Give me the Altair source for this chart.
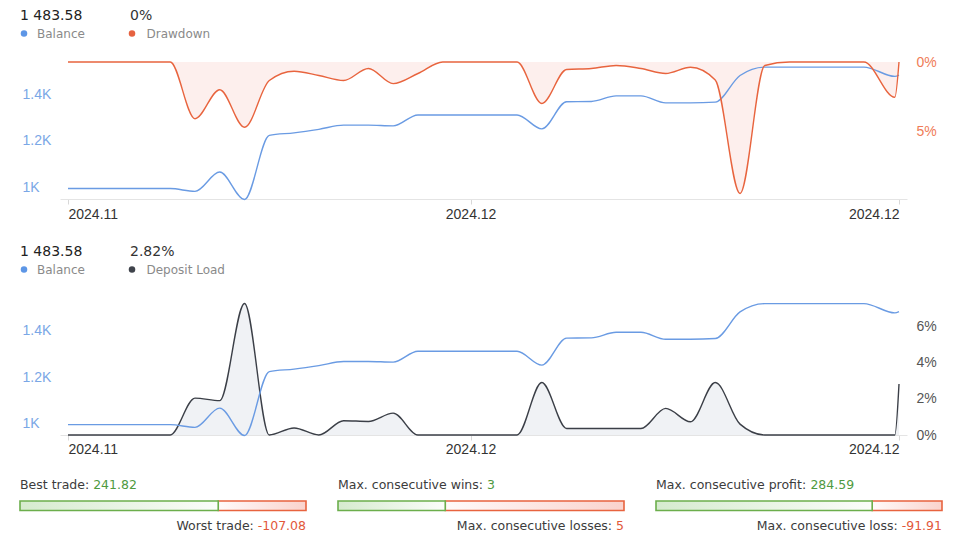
import altair as alt
import pandas as pd

# ---------------- data ----------------
dates = [
    "2024-11-14T18:00:00Z", "2024-11-18T21:00:00Z", "2024-11-19T21:00:00Z",
    "2024-11-20T21:00:00Z", "2024-11-21T21:00:00Z", "2024-11-22T21:00:00Z",
    "2024-11-23T21:00:00Z", "2024-11-24T21:00:00Z", "2024-11-25T21:00:00Z",
    "2024-11-26T21:00:00Z", "2024-11-27T21:00:00Z", "2024-11-28T21:00:00Z",
    "2024-11-29T21:00:00Z", "2024-11-30T21:00:00Z", "2024-12-01T21:00:00Z",
    "2024-12-02T21:00:00Z", "2024-12-03T21:00:00Z", "2024-12-04T21:00:00Z",
    "2024-12-05T21:00:00Z", "2024-12-06T21:00:00Z", "2024-12-07T21:00:00Z",
    "2024-12-08T21:00:00Z", "2024-12-09T21:00:00Z", "2024-12-10T21:00:00Z",
    "2024-12-11T21:00:00Z", "2024-12-12T21:00:00Z", "2024-12-13T21:00:00Z",
    "2024-12-14T21:00:00Z", "2024-12-15T21:00:00Z", "2024-12-16T21:00:00Z",
    "2024-12-18T03:00:00Z", "2024-12-18T07:00:00Z",
]
balance = [995, 995, 983, 1066, 948, 1224, 1235, 1250, 1268, 1268, 1265,
           1312, 1312, 1312, 1312, 1312, 1252, 1369, 1370, 1394, 1394, 1364,
           1364, 1367, 1482, 1518, 1518, 1518, 1518, 1518, 1478, 1483.58]
drawdown = [0, 0, 4.1, 2.0, 4.72, 1.34, 0.67, 0.98, 1.34, 0.47, 1.56,
            0.83, 0, 0, 0, 0, 3.0, 0.54, 0.47, 0.25, 0.47, 0.83,
            0.38, 1.3, 9.5, 0.25, 0, 0, 0, 0, 2.55, 0]
deposit_load = [0, 0, 2.04, 1.9, 7.27, 0, 0.39, 0, 0.79, 0.75, 1.21,
                0, 0, 0, 0, 0, 2.9, 0.36, 0.36, 0.36, 0.36, 1.47,
                0.73, 2.9, 0.6, 0, 0, 0, 0, 0, 0, 2.82]

x_tick_dates = [(2024, 11, 14, 18), (2024, 12, 1, 0), (2024, 12, 18, 7)]
balance_ticks = [1000, 1200, 1400]
drawdown_ticks = [0, 5]
load_ticks = [0, 2, 4, 6]

top_header = ["1 483.58", "0%"]
top_legend = ["Balance", "Drawdown"]
bottom_header = ["1 483.58", "2.82%"]
bottom_legend = ["Balance", "Deposit Load"]

stat_top_labels = ["Best trade:", "Max. consecutive wins:", "Max. consecutive profit:"]
stat_top_values = [241.82, 3, 284.59]
stat_top_text = ["241.82", "3", "284.59"]
stat_bottom_labels = ["Worst trade:", "Max. consecutive losses:", "Max. consecutive loss:"]
stat_bottom_values = [-107.08, 5, -91.91]
stat_bottom_text = ["-107.08", "5", "-91.91"]

# ---------------- style ----------------
TXT_FONT = "DejaVu Sans"
AX_FONT = "Liberation Sans"
BLUE = "#6a9be3"
BLUE_LABEL = "#7aa7e6"
ORANGE = "#e8643e"
ORANGE_FILL = "#fdefed"
ORANGE_LABEL = "#ef7b57"
DARK = "#3b3f47"
GREY_FILL = "#f0f2f5"
GREY_LABEL = "#555555"

W = 847
H_TOP = 137
H_BOT = 133
STAT_W = 286
BAR_SHIFT = 40
STAT_GAP = 32
STAT_FS = 12.5

DEJAVU = {" ": .318, "-": .361, ".": .318, ":": .337, "%": .950, "B": .686,
          "M": .863, "W": .989, "a": .613, "b": .635, "c": .550, "d": .635,
          "e": .615, "f": .352, "i": .278, "l": .278, "n": .634, "o": .612,
          "p": .635, "r": .411, "s": .521, "t": .392, "u": .634, "v": .592,
          "w": .818, "x": .592}


def text_width(s, size):
    return sum(DEJAVU.get(ch, .636) for ch in s) * size


df = pd.DataFrame({"date": dates, "balance": balance,
                   "drawdown": drawdown, "load": deposit_load})

tick_dates = [alt.DateTime(year=y, month=m, date=d, hours=h, utc=True)
              for (y, m, d, h) in x_tick_dates]


def x_enc(label_pad):
    return alt.X(
        "date:T", title=None,
        scale=alt.Scale(type="utc", nice=False, padding=8),
        axis=alt.Axis(values=tick_dates,
                      labelExpr="utcFormat(datum.value, '%Y.%m')",
                      grid=False, domainColor="#e4e4e4", tickColor="#d8d8d8",
                      tickSize=5, labelFlush=10, labelColor="#333333",
                      labelFont=AX_FONT, labelFontSize=14,
                      labelPadding=label_pad, labelOverlap=False))


def left_axis():
    return alt.Axis(values=balance_ticks, labelExpr="datum.value / 1000 + 'K'",
                    orient="left", title=None, grid=False, domain=False,
                    ticks=False, tickSize=0, labelAlign="left", labelPadding=38,
                    labelColor=BLUE_LABEL, labelFont=AX_FONT, labelFontSize=14)


def right_axis(values, color):
    return alt.Axis(values=values, labelExpr="datum.value + '%'",
                    orient="right", title=None, grid=False, domain=False,
                    ticks=False, tickSize=0, labelAlign="left", labelPadding=9,
                    labelColor=color, labelFont=AX_FONT, labelFontSize=14)


def txt(s, x, y, color, size, align="left"):
    return alt.Chart(pd.DataFrame({"s": [s]})).mark_text(
        align=align, baseline="middle", font=TXT_FONT, fontSize=size, color=color
    ).encode(x=alt.value(x), y=alt.value(y), text="s:N")


def dot(x, y, color):
    return alt.Chart(pd.DataFrame({"s": [0]})).mark_circle(
        size=42, color=color, opacity=1
    ).encode(x=alt.value(x), y=alt.value(y))


def header(values, legend, c2, y_val, y_leg):
    return [
        txt(values[0], -40, y_val, "#222222", 14),
        txt(values[1], 70, y_val, "#333333", 14),
        dot(-36, y_leg, "#5d96e6"),
        txt(legend[0], -23, y_leg, "#8a8a8a", 12),
        dot(72, y_leg, c2),
        txt(legend[1], 86.5, y_leg, "#8a8a8a", 12),
    ]


base = alt.Chart(df)

# ---------------- top chart: balance + drawdown ----------------
dd_scale = alt.Scale(domain=[0, 9.9], reverse=True, nice=False, zero=False)
top_bal_scale = alt.Scale(domain=[950, 1540], nice=False, zero=False)

dd_area = base.mark_area(interpolate="monotone", color=ORANGE_FILL, opacity=1).encode(
    x=x_enc(3), y=alt.Y("drawdown:Q", scale=dd_scale, axis=None))
bal_top = base.mark_line(interpolate="monotone", color=BLUE, strokeWidth=1.4).encode(
    x=x_enc(3), y=alt.Y("balance:Q", scale=top_bal_scale, axis=left_axis()))
dd_line = base.mark_line(interpolate="monotone", color=ORANGE, strokeWidth=1.4).encode(
    x=x_enc(3), y=alt.Y("drawdown:Q", scale=dd_scale,
                        axis=right_axis(drawdown_ticks, ORANGE_LABEL)))

top = alt.layer(
    dd_area, bal_top, dd_line,
    *header(top_header, top_legend, "#e66240", -46.5, -28.5)
).resolve_scale(y="independent").properties(width=W, height=H_TOP)

# ---------------- bottom chart: balance + deposit load ----------------
load_scale = alt.Scale(domain=[0, 7.35], nice=False, zero=False)
bot_bal_scale = alt.Scale(domain=[950, 1525], nice=False, zero=False)

load_area = base.mark_area(interpolate="monotone", color=GREY_FILL, opacity=1).encode(
    x=x_enc(2), y=alt.Y("load:Q", scale=load_scale, axis=None))
load_line = base.mark_line(interpolate="monotone", color=DARK, strokeWidth=1.4).encode(
    x=x_enc(2), y=alt.Y("load:Q", scale=load_scale,
                        axis=right_axis(load_ticks, GREY_LABEL)))
bal_bot = base.mark_line(interpolate="monotone", color=BLUE, strokeWidth=1.4).encode(
    x=x_enc(2), y=alt.Y("balance:Q", scale=bot_bal_scale, axis=left_axis()))

bottom = alt.layer(
    load_area, load_line, bal_bot,
    *header(bottom_header, bottom_legend, "#3f434b", -50.5, -32.5)
).resolve_scale(y="independent").properties(width=W, height=H_BOT)

# ---------------- stats ----------------
GREEN_GRAD = alt.Gradient(gradient="linear", x1=0, x2=1, y1=0, y2=0, stops=[
    alt.GradientStop(offset=0, color="#d6ebcf"),
    alt.GradientStop(offset=1, color="#fbfdfa")])
RED_GRAD = alt.Gradient(gradient="linear", x1=0, x2=1, y1=0, y2=0, stops=[
    alt.GradientStop(offset=0, color="#fffafa"),
    alt.GradientStop(offset=1, color="#fad3cd")])


def stat_panel(i):
    d = pd.DataFrame({"win": [abs(stat_top_values[i])],
                      "loss": [abs(stat_bottom_values[i])]})
    b = alt.Chart(d).transform_calculate(
        share="datum.win / (datum.win + datum.loss)", lo="0", hi="1")
    xs = alt.Scale(domain=[0, 1], range=[-BAR_SHIFT, STAT_W - BAR_SHIFT],
                   nice=False, zero=False)
    red = b.mark_rect(fill=RED_GRAD, stroke="#e8633f", strokeWidth=1.6).encode(
        x=alt.X("share:Q", scale=xs, axis=None), x2="hi:Q")
    green = b.mark_rect(fill=GREEN_GRAD, stroke="#6cae4c", strokeWidth=1.6).encode(
        x=alt.X("lo:Q", scale=xs, axis=None), x2="share:Q")
    left = -BAR_SHIFT
    right = STAT_W - BAR_SHIFT
    lab_top = stat_top_labels[i]
    num_bot = stat_bottom_text[i]
    layers = [
        red, green,
        txt(lab_top, left, -16, "#3c3c3c", STAT_FS),
        txt(stat_top_text[i], left + text_width(lab_top + " ", STAT_FS), -16,
            "#4f9a3f", STAT_FS),
        txt(num_bot, right, 25, "#e2583a", STAT_FS, align="right"),
        txt(stat_bottom_labels[i], right - text_width(" " + num_bot, STAT_FS), 25,
            "#3c3c3c", STAT_FS, align="right"),
    ]
    # group width ends where the bar ends so the page is not widened
    return alt.layer(*layers).properties(width=STAT_W - BAR_SHIFT, height=9.5)


stats = alt.hconcat(*[stat_panel(i) for i in range(3)],
                    spacing=STAT_GAP + BAR_SHIFT, bounds="flush")

chart = alt.vconcat(top, bottom, stats, spacing=23).properties(
    padding={"left": 19, "top": 8, "right": 0, "bottom": 0},
    background="white",
).configure_view(strokeWidth=0)

chart.save("out.html", embed_options={"renderer": "svg", "actions": False})
